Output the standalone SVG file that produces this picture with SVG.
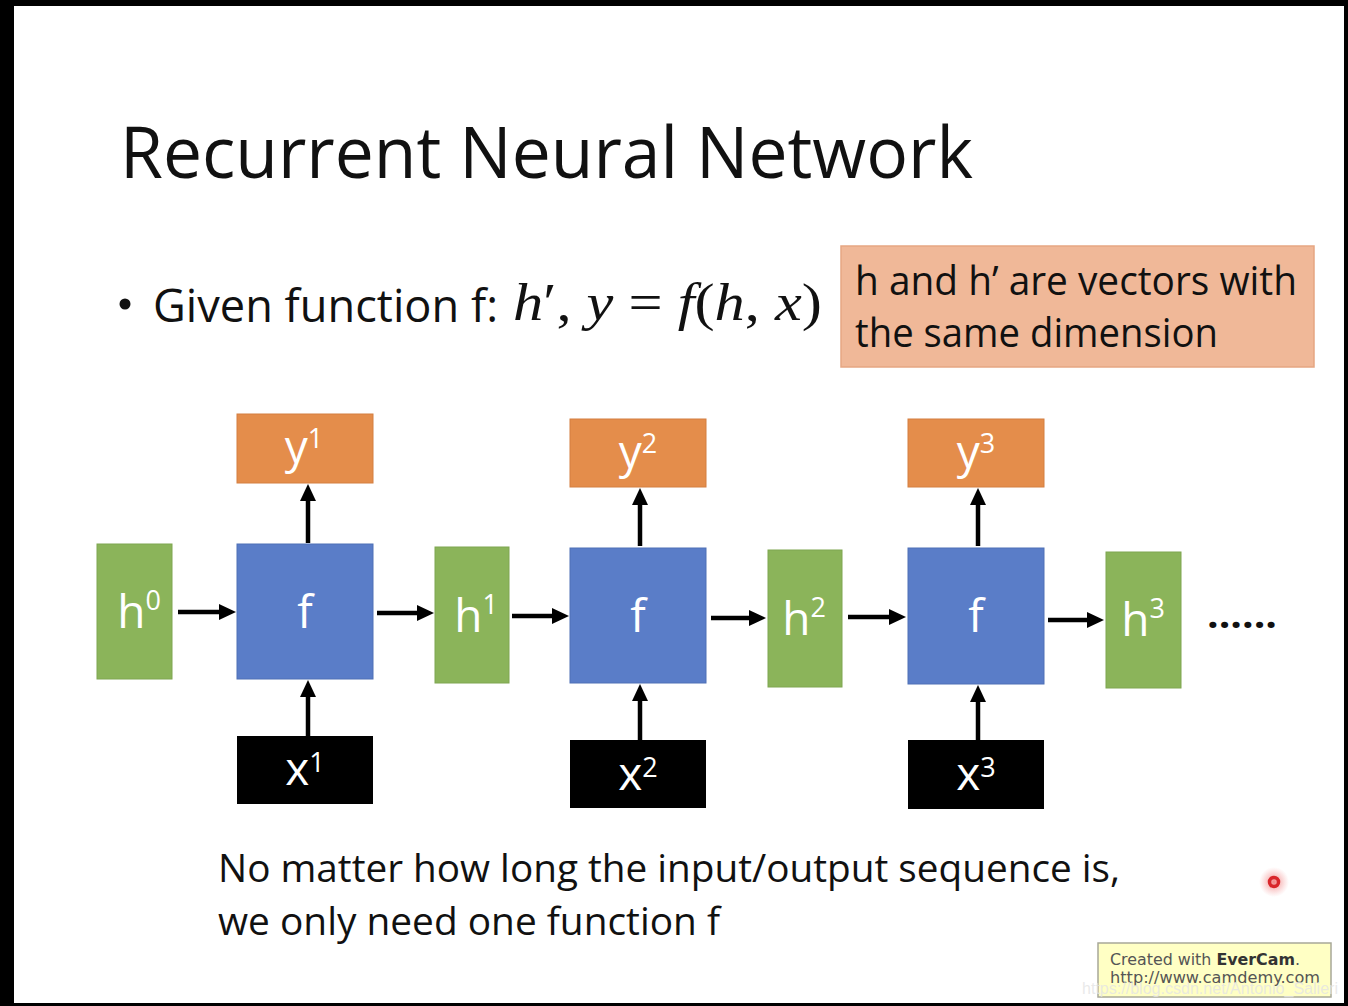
<svg xmlns="http://www.w3.org/2000/svg" width="1348" height="1006" viewBox="0 0 1348 1006">
<defs>
<style>
.g{fill:#8BB45A;stroke:#7FA650;stroke-width:1}
.b{fill:#5A7DC8;stroke:#4F70B6;stroke-width:1}
.o{fill:#E48D4B;stroke:#D47F40;stroke-width:1}
.k{fill:#000}
.lbl{font-family:"Open Sans","Noto Sans",sans-serif;font-size:46px;fill:#fff;text-anchor:middle}
.sup{font-size:27px}
.txt{font-family:"Open Sans","Noto Sans",sans-serif;fill:#111}
.arr{stroke:#000;stroke-width:4.5;fill:none;marker-end:url(#ah)}
</style>
<marker id="ah" markerUnits="userSpaceOnUse" markerWidth="18" markerHeight="17" refX="10" refY="8" orient="auto">
<path d="M0,0 L17,8 L0,16 z" fill="#000"/>
</marker>
<radialGradient id="glow">
<stop offset="0" stop-color="#EE7070" stop-opacity="0.85"/>
<stop offset="0.6" stop-color="#F5A0A0" stop-opacity="0.4"/>
<stop offset="1" stop-color="#F8B0B0" stop-opacity="0"/>
</radialGradient>
</defs>
<rect x="0" y="0" width="1348" height="1006" fill="#fff"/>
<rect x="0" y="0" width="1348" height="6" fill="#000"/>
<rect x="0" y="0" width="14" height="1006" fill="#000"/>
<rect x="1344" y="0" width="4" height="1006" fill="#000"/>
<rect x="0" y="1003" width="1348" height="3" fill="#000"/>

<text class="txt" x="120" y="178" font-size="72" textLength="853" lengthAdjust="spacingAndGlyphs">Recurrent Neural Network</text>

<circle cx="125" cy="304" r="5.5" fill="#111"/>
<text class="txt" x="153" y="322" font-size="46" textLength="345" lengthAdjust="spacingAndGlyphs">Given function f:</text>
<text x="513" y="320" font-family="Liberation Serif,serif" font-size="52" fill="#111" textLength="309" lengthAdjust="spacingAndGlyphs"><tspan font-style="italic">h</tspan>′, <tspan font-style="italic">y</tspan> = <tspan font-style="italic">f</tspan>(<tspan font-style="italic">h</tspan>, <tspan font-style="italic">x</tspan>)</text>

<g id="note">
<rect x="841" y="246" width="473" height="121" fill="#F0B898" stroke="#E6A682" stroke-width="1.5"/>
<text class="txt" x="855" y="295" font-size="40" textLength="442" lengthAdjust="spacingAndGlyphs">h and h’ are vectors with</text>
<text class="txt" x="855" y="347" font-size="40" textLength="363" lengthAdjust="spacingAndGlyphs">the same dimension</text>
</g>

<g id="h0"><rect class="g" x="97" y="544" width="75" height="135"/><text class="lbl" x="139" y="628">h<tspan class="sup" dy="-18">0</tspan></text></g>
<g id="f1"><rect class="b" x="237" y="544" width="136" height="135"/><text class="lbl" x="305" y="628">f</text></g>
<g id="y1"><rect class="o" x="237" y="414" width="136" height="69"/><text class="lbl" x="304" y="463">y<tspan class="sup" dy="-15">1</tspan></text></g>
<g id="x1"><rect class="k" x="237" y="736" width="136" height="68"/><text class="lbl" x="305" y="785">x<tspan class="sup" dy="-13">1</tspan></text></g>
<g id="h1"><rect class="g" x="435" y="547" width="74" height="136"/><text class="lbl" x="476" y="632">h<tspan class="sup" dy="-18">1</tspan></text></g>
<g id="f2"><rect class="b" x="570" y="548" width="136" height="135"/><text class="lbl" x="638" y="632">f</text></g>
<g id="y2"><rect class="o" x="570" y="419" width="136" height="68"/><text class="lbl" x="638" y="468">y<tspan class="sup" dy="-15">2</tspan></text></g>
<g id="x2"><rect class="k" x="570" y="740" width="136" height="68"/><text class="lbl" x="638" y="790">x<tspan class="sup" dy="-13">2</tspan></text></g>
<g id="h2"><rect class="g" x="768" y="550" width="74" height="137"/><text class="lbl" x="804" y="635">h<tspan class="sup" dy="-18">2</tspan></text></g>
<g id="f3"><rect class="b" x="908" y="548" width="136" height="136"/><text class="lbl" x="976" y="632">f</text></g>
<g id="y3"><rect class="o" x="908" y="419" width="136" height="68"/><text class="lbl" x="976" y="468">y<tspan class="sup" dy="-15">3</tspan></text></g>
<g id="x3"><rect class="k" x="908" y="740" width="136" height="69"/><text class="lbl" x="976" y="790">x<tspan class="sup" dy="-13">3</tspan></text></g>
<g id="h3"><rect class="g" x="1106" y="552" width="75" height="136"/><text class="lbl" x="1143" y="636">h<tspan class="sup" dy="-18">3</tspan></text></g>
<text x="1207" y="628" font-family="Open Sans,sans-serif" font-weight="bold" font-size="38" fill="#111" textLength="70" lengthAdjust="spacingAndGlyphs">......</text>

<g id="connectors">
<path class="arr" d="M178,612 H229"/>
<path class="arr" d="M377,613 H427"/>
<path class="arr" d="M512,616 H562"/>
<path class="arr" d="M711,618 H759"/>
<path class="arr" d="M848,617 H899"/>
<path class="arr" d="M1048,620 H1097"/>
<path class="arr" d="M308,736 V687"/>
<path class="arr" d="M308,543 V491"/>
<path class="arr" d="M640,740 V691"/>
<path class="arr" d="M640,546 V495"/>
<path class="arr" d="M978,740 V692"/>
<path class="arr" d="M978,546 V495"/>
</g>

<text class="txt" x="218" y="882" font-size="38" textLength="902" lengthAdjust="spacingAndGlyphs">No matter how long the input/output sequence is,</text>
<text class="txt" x="218" y="935" font-size="38" textLength="502" lengthAdjust="spacingAndGlyphs">we only need one function f</text>

<circle cx="1274" cy="882" r="15" fill="url(#glow)"/>
<circle cx="1274" cy="882" r="4.5" fill="none" stroke="#D9262B" stroke-width="3.5"/>

<g id="watermark">
<rect x="1098" y="943" width="233" height="54" fill="#FFFFC4" stroke="#A8A898" stroke-width="1.5"/>
<text x="1110" y="965" font-family="DejaVu Sans,sans-serif" font-size="15" fill="#555" textLength="190" lengthAdjust="spacingAndGlyphs">Created with <tspan font-weight="bold" fill="#333">EverCam</tspan>.</text>
<text x="1110" y="983" font-family="DejaVu Sans,sans-serif" font-size="15" fill="#555" textLength="210" lengthAdjust="spacingAndGlyphs">http://www.camdemy.com</text>
<text x="1082" y="994" font-family="Liberation Sans,sans-serif" font-size="16" fill="#E4E4E4" fill-opacity="0.8" textLength="256" lengthAdjust="spacingAndGlyphs">https://blog.csdn.net/Antonio_Salieri</text>
</g>
</svg>
